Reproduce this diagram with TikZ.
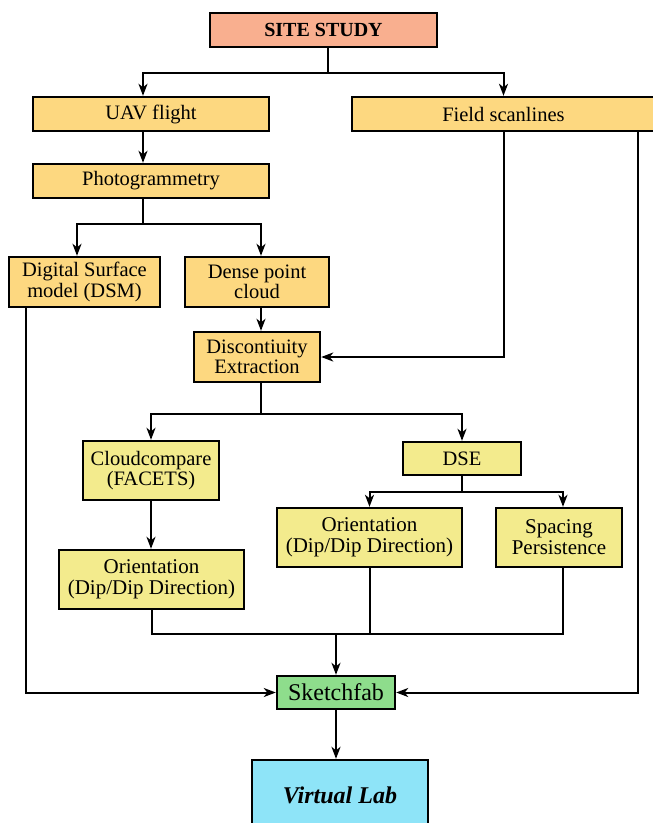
\documentclass[tikz,border=0pt]{standalone}
\usepackage{fontspec}
\setmainfont{Liberation Serif}
\usetikzlibrary{arrows.meta}
\definecolor{cSalmon}{HTML}{F9AF8F}
\definecolor{cOrange}{HTML}{FDD880}
\definecolor{cPale}{HTML}{F3EB8D}
\definecolor{cGreen}{HTML}{8EDD8C}
\definecolor{cCyan}{HTML}{8EE4F8}
\tikzset{
  box/.style={draw=black, line width=2.4pt, rectangle, inner sep=0pt, align=center,
    font=\fontsize{20.5}{20.5}\selectfont},
  line/.style={draw=black, line width=2pt},
  arrow/.style={line, -{Stealth[length=12pt,width=9pt,inset=3.5pt]}}
}
\begin{document}
\begin{tikzpicture}[x=1pt,y=-1pt]
\useasboundingbox (0,0) rectangle (653,823);
\clip (0,0) rectangle (653,823);
\fill[white] (0,0) rectangle (653,823);
% nodes
\node[box, fill=cSalmon, minimum width=227pt, minimum height=34pt, font=\fontsize{20}{20}\selectfont\bfseries] (site) at (323.5,30) {SITE STUDY};
\node[box, fill=cOrange, minimum width=236pt, minimum height=34pt] (uav) at (151,114) {UAV flight};
\node[box, fill=cOrange, minimum width=303pt, minimum height=34pt] (field) at (503.5,114) {Field scanlines};
\node[box, fill=cOrange, minimum width=236pt, minimum height=34pt] (photo) at (151,181) {Photogrammetry};
\node[box, fill=cOrange, minimum width=151pt, minimum height=50pt] (dsm) at (84.5,282) {Digital Surface\\model (DSM)};
\node[box, fill=cOrange, minimum width=144pt, minimum height=50pt] (dense) at (257,282) {Dense point\\cloud};
\node[box, fill=cOrange, minimum width=126pt, minimum height=50pt] (disc) at (257,357) {Discontiuity\\Extraction};
\node[box, fill=cPale, minimum width=136pt, minimum height=59pt] (cc) at (151,470.5) {Cloudcompare\\(FACETS)};
\node[box, fill=cPale, minimum width=118pt, minimum height=33pt] (dse) at (462,458.5) {DSE};
\node[box, fill=cPale, minimum width=185pt, minimum height=59pt, font=\fontsize{21}{21}\selectfont] (or2) at (369.5,537.5) {Orientation\\(Dip/Dip Direction)};
\node[box, fill=cPale, minimum width=126pt, minimum height=59pt, font=\fontsize{21}{21}\selectfont] (sp) at (559,537.5) {Spacing\\Persistence};
\node[box, fill=cPale, minimum width=185pt, minimum height=59pt, font=\fontsize{21}{21}\selectfont] (or1) at (151.5,579.5) {Orientation\\(Dip/Dip Direction)};
\node[box, fill=cGreen, minimum width=118pt, minimum height=33pt, font=\fontsize{24}{24}\selectfont] (sk) at (336,692.5) {Sketchfab};
\node[box, fill=cCyan, minimum width=176pt, minimum height=70pt, font=\fontsize{24}{24}\selectfont\bfseries\itshape] (vl) at (340,795) {Virtual Lab};
% connectors
\draw[arrow] ([xshift=4.5pt]site.south) -- ++(0,25) -| ([xshift=-8pt]uav.north);
\draw[arrow] ([xshift=4.5pt]site.south) -- ++(0,25) -| (field.north);
\draw[arrow] ([xshift=-8pt]uav.south) -- ([xshift=-8pt]photo.north);
\draw[arrow] ([xshift=-8pt]photo.south) -- ++(0,25) -| ([xshift=-7.5pt]dsm.north);
\draw[arrow] ([xshift=-8pt]photo.south) -- ++(0,25) -| ([xshift=4pt]dense.north);
\draw[arrow] ([xshift=4pt]dense.south) -- ([xshift=4pt]disc.north);
\draw[arrow] (field.south) |- (disc.east);
\draw[arrow] ([xshift=4pt]disc.south) -- ++(0,31) -| (cc.north);
\draw[arrow] ([xshift=4pt]disc.south) -- ++(0,31) -| (dse.north);
\draw[arrow] (cc.south) -- (cc.south |- or1.north);
\draw[arrow] (dse.south) -- ++(0,16) -| (or2.north);
\draw[arrow] (dse.south) -- ++(0,16) -| ([xshift=4pt]sp.north);
\coordinate (m) at (336,634);
\draw[line] (or1.south) |- (m);
\draw[line] (or2.south) |- (m);
\draw[line] ([xshift=4pt]sp.south) |- (m);
\draw[arrow] (m) -- (sk.north);
\draw[arrow] ([xshift=-58.5pt]dsm.south) |- (sk.west);
\draw[arrow] ([xshift=134.5pt]field.south) |- (sk.east);
\draw[arrow] (sk.south) -- (sk.south |- vl.north);
\end{tikzpicture}
\end{document}
